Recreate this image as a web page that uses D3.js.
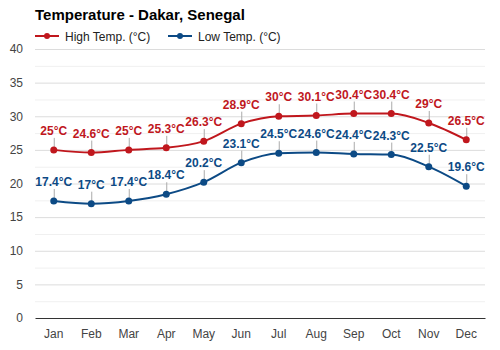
<!DOCTYPE html>
<html><head><meta charset="utf-8">
<script src="https://cdn.jsdelivr.net/npm/d3@7"></script>
<style>body{margin:0;background:#fff}svg{display:block;font-family:Arial,"Liberation Sans",sans-serif}</style>
</head><body><svg id="c" width="500" height="350"></svg>
<script>
const months = ["Jan","Feb","Mar","Apr","May","Jun","Jul","Aug","Sep","Oct","Nov","Dec"];
const highTemps = [25,24.6,25,25.3,26.3,28.9,30,30.1,30.4,30.4,29,26.5];
const lowTemps = [17.4,17,17.4,18.4,20.2,23.1,24.5,24.6,24.4,24.3,22.5,19.6];
const yTicks = [0,5,10,15,20,25,30,35,40];
const seriesNames = ["High Temp. (°C)","Low Temp. (°C)"];

const svg = d3.select("#c");
const m = {l:35, r:15, t:49, b:32};
const W = 500, H = 350;
const x = d3.scaleBand().domain(months).range([m.l, W - m.r]);
const y = d3.scaleLinear().domain([0,40]).range([H - m.b, m.t]);
const colors = ["#c0171d","#0c4a85"];

// minor grid
const minor = d3.range(2.5, 40, 5);
svg.append("g").selectAll("line").data(minor).join("line")
  .attr("x1", m.l).attr("x2", W - m.r)
  .attr("y1", d => y(d)+0.5).attr("y2", d => y(d)+0.5)
  .attr("stroke", "#f0f0f0");
// major grid
svg.append("g").selectAll("line").data(yTicks.filter(d=>d>0)).join("line")
  .attr("x1", m.l).attr("x2", W - m.r)
  .attr("y1", d => y(d)+0.5).attr("y2", d => y(d)+0.5)
  .attr("stroke", "#dcdcdc");

// y axis labels
const ya = svg.append("g").attr("transform", `translate(${m.l},0)`)
  .call(d3.axisLeft(y).tickValues(yTicks).tickSize(0).tickPadding(12));
ya.select(".domain").remove();
ya.selectAll("text").attr("font-size", 12).attr("fill", "#444").attr("font-family","Arial,'Liberation Sans',sans-serif");

// x axis
const xa = svg.append("g").attr("transform", `translate(0,${y(0)})`)
  .call(d3.axisBottom(x).tickSize(0).tickPadding(11));
xa.select(".domain").attr("stroke", "#333");
xa.selectAll("text").attr("font-size", 12).attr("fill", "#444").attr("font-family","Arial,'Liberation Sans',sans-serif");

const line = d3.line().x((d,i) => x(months[i]) + x.bandwidth()/2).y(d => y(d)).curve(d3.curveMonotoneX);

[highTemps, lowTemps].forEach((data, si) => {
  const g = svg.append("g");
  g.append("path").attr("d", line(data)).attr("fill","none").attr("stroke", colors[si]).attr("stroke-width", 2);
  data.forEach((v,i) => {
    const cx = x(months[i]) + x.bandwidth()/2, cy = y(v);
    g.append("line").attr("x1", cx+0.5).attr("x2", cx+0.5).attr("y1", cy - 12).attr("y2", cy)
      .attr("stroke", "#aaa").attr("stroke-width", 1);
    g.append("circle").attr("cx", cx).attr("cy", cy).attr("r", 3.5).attr("fill", colors[si]);
    g.append("text").attr("x", cx).attr("y", cy - 15).attr("text-anchor","middle")
      .attr("font-size", 12).attr("font-weight","bold").attr("fill", colors[si])
      .text(v + "°C");
  });
});

// title
svg.append("text").attr("x", 35).attr("y", 20).attr("font-size", 15).attr("font-weight","bold").attr("fill","#000")
  .text("Temperature - Dakar, Senegal");

// legend
const legX = [35, 168];
seriesNames.forEach((n, i) => {
  const g = svg.append("g").attr("transform", `translate(${legX[i]},36)`);
  g.append("line").attr("x1",0).attr("x2",24).attr("y1",0).attr("y2",0).attr("stroke",colors[i]).attr("stroke-width",2);
  g.append("circle").attr("cx",12).attr("cy",0).attr("r",3).attr("fill",colors[i]);
  g.append("text").attr("x",30).attr("y",4.5).attr("font-size",12).attr("fill","#222").text(n);
});
</script></body></html>
